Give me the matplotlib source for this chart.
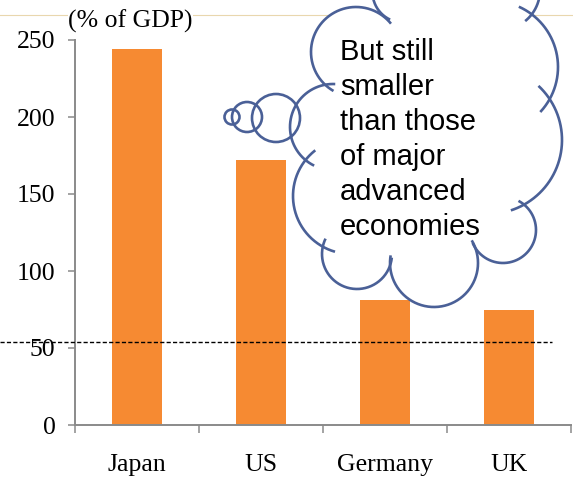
import numpy as np
import matplotlib
matplotlib.use("Agg")
import matplotlib.pyplot as plt
from matplotlib.patches import Circle

# data
countries = ["Japan", "US", "Germany", "UK"]
debt_pct_gdp = [244, 172, 81, 75]
reference_level = 54
y_ticks = [0, 50, 100, 150, 200, 250]
unit_label = "(% of GDP)"
cloud_lines = ["But still", "smaller", "than those", "of major", "advanced", "economies"]

W, H = 573, 479
BAR = "#F68A32"
AXIS = "#8A8A8A"
CLOUD = "#4A6097"
SERIF = ["Liberation Serif", "DejaVu Serif"]
SANS = ["Liberation Sans", "DejaVu Sans"]

fig = plt.figure(figsize=(W / 100, H / 100), dpi=100)
fig.patch.set_facecolor("white")

# main bar axes, placed in pixels
x0, x1, y0, y1 = 75, 571, 425, 40
ax = fig.add_axes([x0 / W, 1 - y0 / H, (x1 - x0) / W, (y0 - y1) / H])
xpos = np.arange(len(countries))
ax.bar(xpos, debt_pct_gdp, width=0.4, color=BAR, zorder=2)
ax.set_xlim(-0.5, len(countries) - 0.5)
ax.set_ylim(0, 250)
ax.set_yticks(y_ticks)
ax.set_yticklabels([str(v) for v in y_ticks], family=SERIF, fontsize=18.5)
ax.set_xticks(xpos)
ax.set_xticklabels(countries, family=SERIF, fontsize=18.5)
ax.set_xticks(np.arange(len(countries) + 1) - 0.5, minor=True)
ax.tick_params(axis="x", which="major", length=0, pad=21)
ax.tick_params(axis="x", which="minor", length=6, width=1.1, color=AXIS, direction="out")
ax.tick_params(axis="y", length=5, width=1.1, color=AXIS, direction="out", pad=9)
for s in ["top", "right"]:
    ax.spines[s].set_visible(False)
for s in ["left", "bottom"]:
    ax.spines[s].set_color(AXIS)
    ax.spines[s].set_linewidth(1.4)

# dashed reference line running past the axes on the left
ax.axhline(reference_level, xmin=-x0 / (x1 - x0), xmax=(552 - x0) / (x1 - x0),
           color="black", linewidth=1.0, dashes=(3, 1.6), clip_on=False, zorder=3)

# overlay in pixel coordinates for slide decorations
ov = fig.add_axes([0, 0, 1, 1])
ov.set_xlim(0, W)
ov.set_ylim(H, 0)
ov.axis("off")
ov.patch.set_visible(False)

ov.plot([0, W], [15, 15], color="#E9D7AE", linewidth=0.8, zorder=1)
ov.text(68, 21, unit_label, family=SERIF, fontsize=18.5, va="center", ha="left",
        bbox=dict(facecolor="white", edgecolor="none", pad=0), zorder=2)

# cloud: outer lobes (x, y, r) and interior filler circles
lobes = [(356, 52, 45), (403, -8, 30.5), (452, -15, 32), (500, -10, 40),
         (492, 67, 66), (488, 140, 74), (503, 230, 33), (434, 263, 44),
         (357, 254, 35), (351, 196, 58), (333, 127, 43)]
fillers = [(430, 150, 110), (450, 40, 60), (395, 35, 22)]
allc = lobes + fillers
for cx, cy, r in allc:
    ov.add_patch(Circle((cx, cy), r, facecolor="white", edgecolor="none", zorder=3))

ext = 14
for i, (cx, cy, r) in enumerate(lobes):
    deg = np.arange(0, 360, 1.0)
    th = np.deg2rad(deg)
    px, py = cx + r * np.cos(th), cy + r * np.sin(th)
    vis = np.ones(len(th), bool)
    for j, (cx2, cy2, r2) in enumerate(allc):
        if j != i:
            vis &= np.hypot(px - cx2, py - cy2) > r2
    if not vis.any():
        continue
    start = int(np.argmin(vis))
    v = np.roll(vis, -start)
    d = np.roll(deg, -start)
    k = 0
    n = len(v)
    while k < n:
        if v[k]:
            m = k
            while m < n and v[m]:
                m += 1
            a0, a1 = d[k] - ext, d[k] + (m - k - 1) + ext
            tt = np.deg2rad(np.linspace(a0, a1, 200))
            ov.plot(cx + r * np.cos(tt), cy + r * np.sin(tt), color=CLOUD,
                    linewidth=1.9, solid_capstyle="butt", zorder=4)
            k = m
        else:
            k += 1

for i, line in enumerate(cloud_lines):
    ov.text(340, 60 + 35 * i, line, family=SANS, fontsize=21, va="baseline",
            ha="left", zorder=5)

# thought bubbles
for cx, cy, r in [(232, 117, 7.5), (247, 117, 15), (276, 118, 24)]:
    ov.add_patch(Circle((cx, cy), r, facecolor="none", edgecolor=CLOUD,
                        linewidth=1.9, zorder=6))

fig.savefig("out.png", dpi=100)
